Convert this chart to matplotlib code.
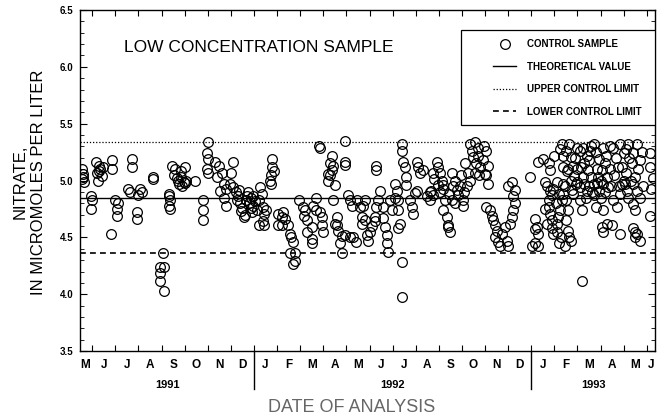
import matplotlib
matplotlib.use('Agg')
import matplotlib.pyplot as plt
import matplotlib.transforms as mtransforms
from matplotlib.patches import Rectangle
import numpy as np

plt.rcParams['font.family'] = ['Liberation Sans', 'DejaVu Sans']

# x = months since 1 May 1991, y = nitrate (micromoles per liter)
month_labels = ['M', 'J', 'J', 'A', 'S', 'O', 'N', 'D',
                'J', 'F', 'M', 'A', 'M', 'J', 'J', 'A', 'S', 'O', 'N', 'D',
                'J', 'F', 'M', 'A', 'M', 'J']
years = ['1991', '1992', '1993']
year_breaks = [8.0, 20.0]

theoretical = 4.85
upper_limit = 5.335
lower_limit = 4.365

pts_1991 = [
    (0.55, 5.10), (0.60, 5.06), (0.55, 5.01), (0.65, 4.99), (0.60, 5.03),
    (0.93, 4.86), (0.97, 4.83), (0.95, 4.75),
    (1.15, 5.16), (1.30, 5.13), (1.35, 5.10), (1.20, 5.07), (1.40, 5.04), (1.25, 5.00), (1.45, 5.12), (1.30, 5.08),
    (1.85, 5.18), (1.87, 5.10), (1.83, 4.53),
    (2.00, 4.83), (2.05, 4.75), (2.05, 4.69), (2.10, 4.80),
    (2.72, 5.19), (2.72, 5.12),
    (2.55, 4.93), (2.63, 4.90), (3.06, 4.93), (3.15, 4.90), (2.98, 4.87),
    (2.94, 4.72), (2.94, 4.66),
    (3.63, 5.03), (3.63, 5.01),
    (4.07, 4.36), (3.93, 4.24), (4.10, 4.24), (3.95, 4.19), (3.95, 4.12), (4.12, 4.03),
    (4.30, 4.88), (4.35, 4.83), (4.30, 4.78), (4.35, 4.75), (4.33, 4.86),
    (4.45, 5.13), (4.60, 5.10), (4.85, 5.03), (4.95, 4.99), (4.70, 5.00), (5.07, 5.00), (4.55, 5.05),
    (4.85, 5.08), (5.00, 5.12), (5.45, 5.00), (4.75, 4.97), (4.90, 4.95), (5.00, 4.98), (4.65, 5.02),
    (5.80, 4.83), (5.80, 4.74), (5.80, 4.65),
    (6.00, 5.34), (5.97, 5.24), (6.00, 5.19), (5.97, 5.10), (6.00, 5.07), (6.30, 5.16), (6.50, 5.13),
    (6.40, 5.03), (6.60, 5.07), (6.70, 4.97), (6.80, 4.93), (6.95, 4.97), (7.10, 5.16), (7.00, 5.07),
    (6.55, 4.91), (6.70, 4.85), (6.80, 4.78),
    (7.10, 4.94), (7.20, 4.90), (7.30, 4.86), (7.25, 4.83), (7.40, 4.80), (7.50, 4.76), (7.45, 4.73),
    (7.60, 4.70), (7.55, 4.68), (7.70, 4.86), (7.80, 4.80), (7.85, 4.76), (7.90, 4.72), (7.35, 4.92),
    (7.65, 4.83), (7.75, 4.90), (7.95, 4.78), (7.95, 4.86), (7.85, 4.85),
]

pts_1992 = [
    (8.25, 4.94), (8.35, 4.88), (8.20, 4.83), (8.40, 4.77), (8.45, 4.71), (8.40, 4.64), (8.45, 4.61),
    (8.05, 4.82), (8.15, 4.74), (8.20, 4.61), (8.50, 4.74),
    (8.78, 5.19), (8.78, 5.12), (8.72, 5.05), (8.68, 5.00), (8.85, 5.08), (8.72, 4.97),
    (9.04, 4.71), (9.04, 4.61),
    (9.26, 4.72), (9.20, 4.68), (9.34, 4.66), (9.47, 4.61), (9.20, 4.61), (9.56, 4.53), (9.60, 4.50),
    (9.70, 4.46), (9.56, 4.36), (9.77, 4.36), (9.70, 4.27), (9.77, 4.29),
    (9.95, 4.83),
    (10.10, 4.77), (10.20, 4.74), (10.15, 4.69), (10.30, 4.65), (10.50, 4.59), (10.30, 4.55), (10.50, 4.49),
    (10.50, 4.45), (10.55, 4.78), (10.70, 4.74), (10.85, 4.72), (10.95, 4.68), (10.95, 4.61), (11.00, 4.55),
    (10.70, 4.85),
    (10.85, 5.29), (10.82, 5.30),
    (11.20, 5.00), (11.30, 5.05), (11.37, 5.09), (11.42, 5.13), (11.37, 5.22), (11.30, 5.15), (11.20, 5.06),
    (11.50, 4.96), (11.42, 4.83),
    (11.60, 4.68), (11.50, 4.62), (11.65, 4.56), (11.80, 4.51), (11.73, 4.45), (11.80, 4.36), (11.94, 4.52),
    (11.60, 4.61),
    (11.94, 5.35), (11.94, 5.16), (11.94, 5.14),
    (12.07, 4.87), (12.16, 4.83), (12.25, 4.78), (12.45, 4.83), (12.60, 4.77), (12.70, 4.78), (12.80, 4.83),
    (12.16, 4.50), (12.30, 4.50), (12.40, 4.46), (12.66, 4.68), (12.66, 4.62), (12.80, 4.65),
    (12.90, 4.52), (13.00, 4.55), (12.95, 4.47), (13.10, 4.60),
    (13.24, 4.68), (13.30, 4.77), (13.35, 4.83), (13.45, 4.91), (13.24, 4.64), (13.60, 4.67), (13.65, 4.59),
    (13.75, 4.52), (13.75, 4.45), (13.80, 4.37), (13.60, 4.77), (13.90, 4.83), (13.96, 4.74),
    (13.30, 5.13), (13.30, 5.09),
    (14.10, 4.97), (14.20, 4.91), (14.10, 4.85), (14.25, 4.83), (14.25, 4.74), (14.30, 4.62), (14.25, 4.58),
    (14.40, 5.32), (14.40, 5.26), (14.40, 4.28), (14.40, 3.98),
    (14.45, 5.16), (14.53, 5.12), (14.60, 5.03), (14.60, 4.96), (14.75, 4.83), (14.83, 4.77), (14.90, 4.71),
    (14.95, 4.89), (15.05, 4.91), (15.05, 5.16), (15.10, 5.12), (15.20, 5.07), (15.30, 5.09),
    (15.50, 4.86), (15.60, 4.83), (15.67, 4.91), (15.75, 4.87), (15.90, 5.16), (15.97, 5.12), (16.05, 5.07),
    (16.13, 5.00), (16.20, 4.93), (16.27, 4.83), (16.20, 4.74), (16.35, 4.68), (16.40, 4.61), (16.50, 4.55),
    (15.75, 5.07), (15.80, 5.01), (15.97, 4.96), (15.60, 4.90), (16.05, 4.90), (16.20, 4.96), (16.57, 4.83),
    (16.57, 5.07), (16.60, 4.95), (16.80, 4.92), (16.85, 4.87), (16.90, 4.95), (17.05, 4.83), (17.05, 4.78),
    (17.20, 4.95), (16.40, 4.59),
    (16.70, 5.00), (16.95, 5.05), (17.10, 4.90), (16.45, 4.88), (16.70, 4.80),
    (17.35, 5.32), (17.43, 5.26), (17.56, 5.34), (17.70, 5.29), (17.50, 5.21), (17.70, 5.22), (17.90, 5.18),
    (18.06, 5.26), (18.13, 5.13), (17.80, 5.12), (17.56, 5.07), (18.00, 5.06), (18.13, 4.97), (17.27, 5.07),
    (17.35, 5.00), (17.15, 5.15), (17.60, 5.15), (17.75, 5.05), (17.95, 5.30), (18.05, 5.05),
    (18.06, 4.77), (18.20, 4.74), (18.28, 4.69), (18.35, 4.65), (18.43, 4.61), (18.50, 4.56), (18.43, 4.50),
    (18.58, 4.46), (18.65, 4.42), (18.73, 4.53), (18.87, 4.59), (18.94, 4.47), (19.00, 4.42), (19.08, 4.62),
    (19.16, 4.68), (19.23, 4.74), (19.30, 4.80), (19.23, 4.86), (19.30, 4.92), (19.16, 4.99), (19.00, 4.95),
    (19.95, 5.03),
]

pts_1993 = [
    (20.03, 4.42), (20.15, 4.45), (20.30, 4.42), (20.15, 4.66), (20.25, 4.59), (20.30, 4.53), (20.15, 4.57),
    (20.30, 5.16), (20.50, 5.19),
    (20.60, 4.99), (20.67, 4.95), (20.80, 4.91), (20.90, 4.87), (20.75, 4.83), (20.75, 4.77), (20.80, 4.71),
    (20.90, 4.65), (20.90, 4.58), (20.95, 4.53), (21.10, 4.55), (21.10, 4.62), (21.15, 4.68), (21.25, 4.74),
    (21.33, 4.83), (21.10, 4.99), (20.95, 4.93), (20.80, 5.09), (20.75, 5.15), (21.00, 5.22), (21.25, 5.28),
    (21.33, 5.32), (21.37, 5.22), (21.37, 5.12),
    (20.60, 4.75), (20.70, 4.62), (21.05, 4.80), (21.20, 4.88), (21.20, 4.45), (21.30, 4.50), (21.45, 4.42),
    (21.37, 4.97), (21.37, 4.88), (21.50, 4.83), (21.57, 4.74), (21.50, 4.65), (21.57, 4.56), (21.65, 4.50),
    (21.72, 4.47), (21.50, 5.26), (21.65, 5.32), (21.72, 5.21), (21.80, 5.13), (21.85, 5.04), (21.95, 4.97),
    (21.80, 4.88), (21.45, 4.95), (21.55, 5.08), (21.60, 5.10), (21.70, 5.00), (21.75, 4.92), (21.90, 5.20),
    (22.20, 4.12),
    (21.98, 5.29), (22.10, 5.26), (22.24, 5.29), (22.40, 5.22), (22.55, 5.26), (22.70, 5.32), (22.80, 5.25),
    (22.95, 5.19), (23.10, 5.29), (22.30, 5.15), (22.45, 5.09), (22.60, 5.03), (22.73, 4.97), (22.90, 5.03),
    (23.05, 5.09), (23.20, 5.15), (22.24, 5.03), (22.10, 4.94), (22.40, 4.91), (22.70, 4.87), (22.95, 4.91),
    (23.10, 4.97), (23.27, 5.03), (23.33, 4.94), (22.10, 4.83), (22.20, 4.74),
    (22.00, 5.10), (22.00, 4.99), (22.15, 5.12), (22.30, 4.97), (22.35, 4.85), (22.50, 4.95), (22.50, 5.18),
    (22.60, 5.30), (22.65, 4.90), (22.85, 5.10), (22.85, 4.98), (23.00, 5.00), (23.00, 4.85), (23.20, 4.90),
    (22.80, 4.77), (23.10, 4.74), (23.05, 4.59), (23.10, 4.55), (23.27, 4.62), (23.50, 4.61), (23.85, 4.53),
    (23.55, 4.83), (23.70, 4.77), (23.85, 4.88), (23.93, 4.97),
    (23.25, 5.22), (23.40, 5.10), (23.40, 5.30), (23.45, 4.95), (23.60, 5.05), (23.65, 5.20), (23.75, 5.12),
    (23.80, 4.95),
    (23.55, 5.29), (23.85, 5.32), (24.00, 5.24), (24.10, 5.28), (24.20, 5.32), (24.40, 5.24), (24.57, 5.32),
    (23.93, 5.12), (24.10, 5.07), (24.35, 5.15), (24.50, 5.03), (24.70, 5.18),
    (24.00, 5.00), (24.25, 5.20), (24.30, 5.00), (24.60, 5.10), (24.80, 5.25), (24.85, 4.95),
    (24.05, 4.97), (24.15, 4.91), (24.20, 4.85), (24.40, 4.79), (24.50, 4.74), (24.57, 4.91), (24.70, 4.85),
    (24.40, 4.97),
    (24.40, 4.58), (24.57, 4.53), (24.50, 4.50), (24.70, 4.47), (24.50, 4.55),
    (25.15, 5.24), (25.15, 5.12), (25.20, 4.93), (25.15, 4.69), (25.25, 5.02),
]

fig = plt.figure(figsize=(6.58, 4.16), dpi=100)
ax = fig.add_axes([0.1216, 0.156, 0.874, 0.82])

pts = np.array(pts_1991 + pts_1992 + pts_1993)
ax.plot(pts[:, 0], pts[:, 1], 'o', mfc='none', mec='black', ms=7, mew=0.9,
        label='CONTROL SAMPLE', zorder=3)
ax.axhline(theoretical, color='black', lw=1.0, label='THEORETICAL VALUE')
ax.axhline(upper_limit, color='black', lw=0.9, ls=(0, (1, 1.5)), label='UPPER CONTROL LIMIT')
ax.axhline(lower_limit, color='black', lw=1.2, ls=(0, (3.5, 2.5)), label='LOWER CONTROL LIMIT')

xmin, xmax = 0.47, 25.36
ax.set_xlim(xmin, xmax)
ax.set_ylim(3.5, 6.5)

# y axis
yt = np.arange(3.5, 6.51, 0.5)
ax.set_yticks(yt)
ax.set_yticklabels(['%.1f' % v for v in yt], fontsize=7, fontweight='bold')
ax.set_yticks(np.arange(3.5, 6.51, 0.1), minor=True)

# x axis: ticks at month boundaries, letters at month centres
ax.set_xticks(np.arange(1, 26))
ax.set_xticklabels([])
centres = np.clip(np.arange(len(month_labels)) + 0.5, xmin + 0.22, xmax - 0.16)
ax.set_xticks(centres, minor=True)
ax.set_xticklabels(month_labels, minor=True, fontsize=8.5, fontweight='bold')

ax.tick_params(which='both', direction='in', top=True, right=True)
ax.tick_params(axis='y', which='major', length=5, pad=5)
ax.tick_params(axis='y', which='minor', length=3)
ax.tick_params(axis='x', which='major', length=4)
ax.tick_params(axis='x', which='minor', length=0, pad=6)
for s in ax.spines.values():
    s.set_linewidth(1.0)

# year separators and year labels
trans = mtransforms.blended_transform_factory(ax.transData, ax.transAxes)
for b in year_breaks:
    ax.plot([b, b], [0, -0.11], color='black', lw=1.0, transform=trans, clip_on=False)
spans = [xmin] + year_breaks + [xmax]
for i, yr in enumerate(years):
    ax.text((spans[i] + spans[i + 1]) / 2, -0.1, yr, transform=trans,
            ha='center', va='center', fontsize=8, fontweight='bold')

ax.text(0.31, 0.89, 'LOW CONCENTRATION SAMPLE', transform=ax.transAxes,
        ha='center', va='center', fontsize=12.5)

fig.text(0.045, 0.5625, 'NITRATE,\nIN MICROMOLES PER LITER', rotation=90,
         ha='center', va='center', multialignment='center', fontsize=12, linespacing=1.3)
fig.text(0.535, 0.02, 'DATE OF ANALYSIS', ha='center', va='center', fontsize=13, color='#666666')

# legend: frame drawn separately so the box can be wider than its entries
ax.add_patch(Rectangle((0.6626, 0.6628), 0.337, 0.2786, transform=ax.transAxes,
                       facecolor='white', edgecolor='black', lw=0.9, zorder=4))
leg = ax.legend(loc='upper left', bbox_to_anchor=(0.718, 0.915), frameon=False,
                prop={'weight': 'bold', 'size': 7}, borderpad=0, borderaxespad=0,
                labelspacing=1.3, handlelength=2.4, handletextpad=1.1)
leg.set_zorder(5)

fig.savefig('out.png', dpi=100)
